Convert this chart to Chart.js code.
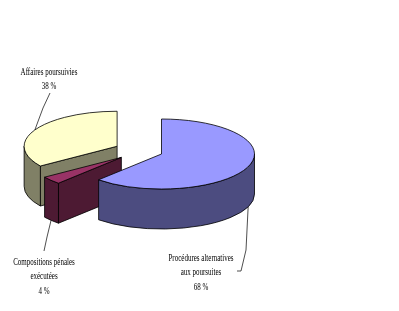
<!DOCTYPE html>
<html>
<head>
<meta charset="utf-8">
<script src="https://cdn.jsdelivr.net/npm/chart.js@4"></script>
<style>
  html, body { margin: 0; padding: 0; background: #fff; }
  canvas { display: block; }
</style>
</head>
<body>
<canvas id="pie" width="399" height="311"></canvas>
<script>
// Excel-style 3D exploded pie. Slices in drawing order (clockwise from 12 o'clock).
const categories = [['Procédures alternatives', 'aux poursuites'], ['Compositions pénales', 'exécutées'], ['Affaires poursuivies']];
const values = [68, 4, 38];
const pctLabels = ['68 %', '4 %', '38 %'];

const topColors = ['#9999ff', '#993366', '#ffffcc'];
const sideColors = ['#4c4c80', '#4d1a33', '#808066'];
const explode = [22, 26, 27];

// where each label sits (centre x, centre y of first line) and the bends of its leader line
const labelSpots = [
  { x: 201, y: 258, lead: [[246, 250], [241, 271], [237, 271]] },
  { x: 44, y: 262, lead: [[47, 237], [44, 251]] },
  { x: 49, y: 72, lead: [[43, 108], [50, 93]] }
];

const TILT = 35 / 93, DEPTH = 40;

function maxFront(s, e) {
  const q = Math.PI / 2;
  if ((s <= q && e >= q) || (s <= q + 2 * Math.PI && e >= q + 2 * Math.PI)) return 1;
  return Math.max(Math.sin(s), Math.sin(e));
}

function poly(ctx, pts, fill) {
  ctx.beginPath();
  pts.forEach(([x, y], j) => j ? ctx.lineTo(x, y) : ctx.moveTo(x, y));
  ctx.closePath();
  ctx.fillStyle = fill;
  ctx.fill();
  ctx.stroke();
}

const pie3d = {
  id: 'pie3d',
  beforeDatasetsDraw(chart) {
    const ctx = chart.ctx;
    const arcs = chart.getDatasetMeta(0).data;
    const geo = arcs.map((a, i) => {
      const mid = (a.startAngle + a.endAngle) / 2;
      const off = a.options.offset || 0;
      const rx = a.outerRadius, ry = rx * TILT;
      return {
        i, s: a.startAngle, e: a.endAngle, mid, rx, ry,
        cx: a.x + off * Math.cos(mid), cy: a.y + off * Math.sin(mid) * TILT
      };
    });
    const pt = (g, a, dz) => [g.cx + g.rx * Math.cos(a), g.cy + g.ry * Math.sin(a) + (dz || 0)];

    ctx.save();
    ctx.lineWidth = 0.8;
    ctx.strokeStyle = '#000';
    ctx.lineJoin = 'round';

    const order = geo.slice().sort((a, b) => (a.cy + a.ry * maxFront(a.s, a.e)) - (b.cy + b.ry * maxFront(b.s, b.e)));
    order.forEach((g) => {
      const side = sideColors[g.i];
      // radial cut faces that look toward the viewer
      if (Math.sin(g.s - Math.PI / 2) > 0.01) {
        const p = pt(g, g.s);
        poly(ctx, [[g.cx, g.cy], p, [p[0], p[1] + DEPTH], [g.cx, g.cy + DEPTH]], side);
      }
      if (Math.sin(g.e + Math.PI / 2) > 0.01) {
        const p = pt(g, g.e);
        poly(ctx, [[g.cx, g.cy], p, [p[0], p[1] + DEPTH], [g.cx, g.cy + DEPTH]], side);
      }
      // outer rim, front half only
      const a0 = Math.max(g.s, 0), a1 = Math.min(g.e, Math.PI);
      if (a1 > a0) {
        ctx.beginPath();
        ctx.ellipse(g.cx, g.cy, g.rx, g.ry, 0, a0, a1);
        ctx.ellipse(g.cx, g.cy + DEPTH, g.rx, g.ry, 0, a1, a0, true);
        ctx.closePath();
        ctx.fillStyle = side;
        ctx.fill();
        ctx.stroke();
      }
      // top face
      ctx.beginPath();
      ctx.moveTo(g.cx, g.cy);
      ctx.ellipse(g.cx, g.cy, g.rx, g.ry, 0, g.s, g.e);
      ctx.closePath();
      ctx.fillStyle = topColors[g.i];
      ctx.fill();
      ctx.stroke();
    });

    // leader lines and labels
    ctx.strokeStyle = '#222';
    ctx.lineWidth = 0.8;
    ctx.fillStyle = '#000';
    ctx.font = '10px "Liberation Serif", "Times New Roman", serif';
    ctx.textAlign = 'center';
    ctx.textBaseline = 'middle';
    geo.forEach((g) => {
      const spot = labelSpots[g.i];
      const start = pt(g, g.mid, Math.sin(g.mid) > 0 ? DEPTH : 0);
      ctx.beginPath();
      ctx.moveTo(start[0], start[1]);
      spot.lead.forEach(([x, y]) => ctx.lineTo(x, y));
      ctx.stroke();
      const lines = categories[g.i].concat([pctLabels[g.i]]);
      lines.forEach((t, j) => {
        ctx.save();
        ctx.translate(spot.x, spot.y + j * 14.5);
        ctx.scale(0.7, 1);
        ctx.fillText(t, 0, 0);
        ctx.restore();
      });
    });
    ctx.restore();
    return false;
  }
};

new Chart(document.getElementById('pie'), {
  type: 'pie',
  data: {
    labels: categories.map((c) => c.join(' ')),
    datasets: [{ data: values, backgroundColor: topColors, offset: explode, radius: 93, borderWidth: 0 }]
  },
  options: {
    responsive: false,
    animation: false,
    layout: { padding: { left: 0, right: 117, top: 0, bottom: 9 } },
    plugins: { legend: { display: false }, tooltip: { enabled: false } }
  },
  plugins: [pie3d]
});
</script>
</body>
</html>
